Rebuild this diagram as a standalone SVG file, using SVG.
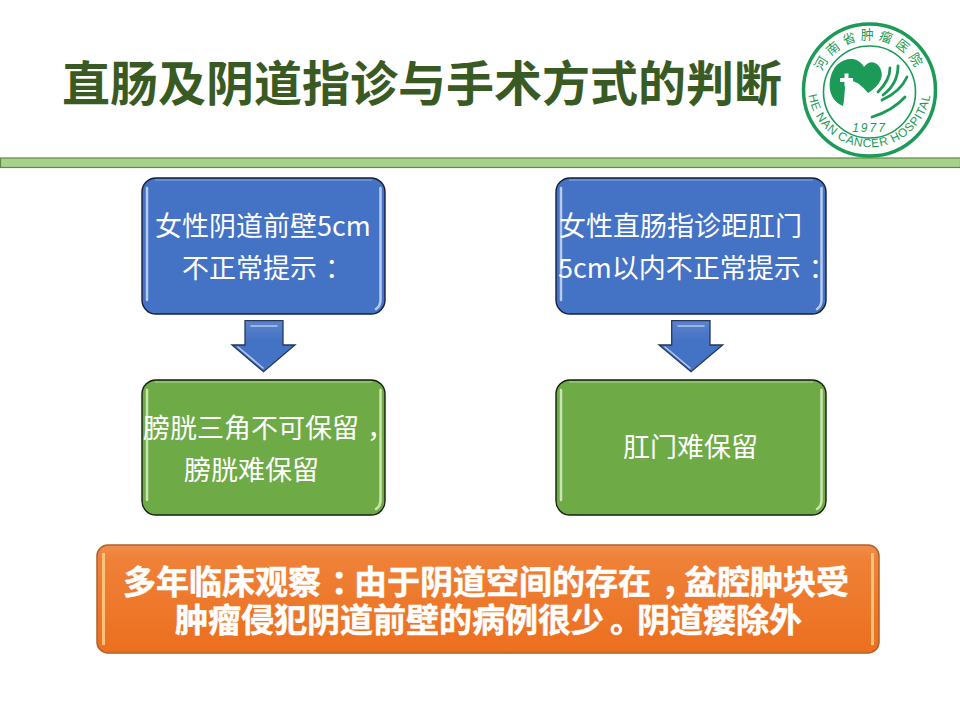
<svg xmlns="http://www.w3.org/2000/svg" width="960" height="720" viewBox="0 0 960 720">
<defs>
<linearGradient id="orG" x1="0" y1="0" x2="0" y2="1"><stop offset="0" stop-color="#f18d4c"/><stop offset=".12" stop-color="#ef8138"/><stop offset="1" stop-color="#ec6f1e"/></linearGradient>
<linearGradient id="arG" x1="0" y1="0" x2="0" y2="1"><stop offset="0" stop-color="#5b84cc"/><stop offset=".4" stop-color="#4472c4"/><stop offset="1" stop-color="#4472c4"/></linearGradient>
</defs>
<style>
text{font-family:"Noto Sans CJK SC","Liberation Sans",sans-serif}
.t{fill:#fff;font-size:27px}
.b{fill:#fff;font-size:33px;font-weight:700;stroke:#fff;stroke-width:.5}
.blue{fill:#4472c4;stroke:#14203a;stroke-width:1.4}
.green{fill:#6eaa46;stroke:#15200e;stroke-width:1.4}
.hl{fill:none;stroke:#b8cbee;stroke-width:2.5;stroke-linecap:round}
.hg{fill:none;stroke:#cbe6b2;stroke-width:2.5;stroke-linecap:round}
.tl{fill:none;stroke:#8fabdf;stroke-width:1.2}
.tg{fill:none;stroke:#b0d594;stroke-width:1.2}
.arrow{fill:url(#arG);stroke:#24375c;stroke-width:1.3;stroke-linejoin:miter}
.ah{fill:none;stroke:#b3c8ee;stroke-width:1.6;stroke-linecap:round}
.lg{fill:none;stroke:#1c9a57}
.lf{fill:#1c9a57}
.lt{fill:#1c9a57;font-family:"Liberation Sans",sans-serif;font-size:12px}
</style>
<rect width="960" height="720" fill="#fff"/>
<text x="62" y="101" font-size="48" font-weight="700" fill="#3a5a24">直肠及阴道指诊与手术方式的判断</text>
<rect id="bar" x="0.500" y="158" width="960" height="9.500" fill="#a9d18e" stroke="#5f8a45" stroke-width="1.200"/>
<g id="logo">
<circle class="lg" cx="869.500" cy="90" r="66" stroke-width="3.500"/>
<circle class="lg" cx="869.500" cy="92" r="46" stroke-width="1.600"/>
<path class="lf" d="M843 106C833 102 828 92 830 80C832 66 842 58 853 59C858 60 862 63 864 67C867 63 871 61 875 63C881 66 883 73 881 79C878 86 873 90 868 93C864 88 860 84 855 82C851 80 848 80 846 84C844 90 845 98 843 106Z"/>
<path fill="#fff" d="M840 78h4.500v-4.500h4v4.500h4.500v4h-4.500v4.500h-4v-4.500h-4.500z"/>
<path class="lg" stroke-width="2.800" stroke-linecap="round" d="M890 68C890 78 884 86 878 92M898 66C898 79 891 89 883 95M907 77C902 88 893 95 882 100M905 97C896 107 885 113 872 117"/>
<text x="869.500" y="132" text-anchor="middle" class="lt" font-style="italic" letter-spacing="2">1977</text>
<path id="lc" fill="none" d="M808.500 78A61.500 61.500 0 1 0 930.500 78"/>
<text class="lt" letter-spacing=".6"><textPath href="#lc" startOffset="50%" text-anchor="middle">HE NAN CANCER HOSPITAL</textPath></text>
<path id="lc2" fill="none" d="M822 107A50.500 50.500 0 1 1 917 107"/>
<text style="fill:#1c9a57;font-size:13px" letter-spacing="4.300"><textPath href="#lc2" startOffset="50%" text-anchor="middle">河南省肿瘤医院</textPath></text>
</g>
<g id="connectors">
<g><path class="arrow" d="M245 320.700H283V345H295L263.500 371.700L232 345H245Z"/><path class="ah" d="M251 326H277M238 347L263 368"/></g>
<g><path class="arrow" d="M671.700 320.700H710V345H722.700L691 371.700L659 345H671.700Z"/><path class="ah" d="M678 326H704M665 347L690 368"/></g>
</g>
<g id="n1"><rect class="blue" x="142" y="178" width="243" height="136" rx="14"/><path class="tl" d="M155 180H372"/><path class="hl" d="M147 188V300M380.500 188V300Q380.500 306 376 309"/><text class="t" x="155" y="236">女性阴道前壁5cm</text><text class="t" x="182" y="278">不正常提示<tspan dx="8">：</tspan></text></g>
<g id="n2"><rect class="blue" x="556" y="178" width="270" height="136" rx="14"/><path class="tl" d="M569 180H813"/><path class="hl" d="M561 188V300M821.500 188V300Q821.500 306 817 309"/><text class="t" x="559" y="236">女性直肠指诊距肛门</text><text class="t" x="558" y="278">5cm以内不正常提示<tspan dx="8">：</tspan></text></g>
<g id="n3"><rect class="green" x="142" y="380" width="243" height="135" rx="14"/><path class="tg" d="M155 382H372"/><path class="hg" d="M147 390V500M380.500 390V500Q380.500 506 376 509"/><text class="t" x="143" y="438">膀胱三角不可保留<tspan dx="8">，</tspan></text><text class="t" x="184" y="480">膀胱难保留</text></g>
<g id="n4"><rect class="green" x="556" y="380" width="270" height="135" rx="14"/><path class="tg" d="M569 382H813"/><path class="hg" d="M561 390V500M821.500 390V500Q821.500 506 817 509"/><text class="t" x="623" y="457">肛门难保留</text></g>
<g id="n5"><rect x="97" y="545" width="782" height="108" rx="11" fill="url(#orG)" stroke="#b0602a" stroke-width="1.500"/><path d="M103.500 553V645M872.500 553V645" stroke="#ffd08a" stroke-width="3" opacity=".85"/><text class="b" x="123" y="594">多年临床观察<tspan dx="10">：</tspan><tspan dx="-10">由于阴道空间的存在</tspan><tspan dx="10">，</tspan><tspan dx="-10">盆腔肿块受</tspan></text><text class="b" x="175" y="632">肿瘤侵犯阴道前壁的病例很少<tspan dx="6">。</tspan><tspan dx="-6">阴道瘘除外</tspan></text></g>
</svg>
